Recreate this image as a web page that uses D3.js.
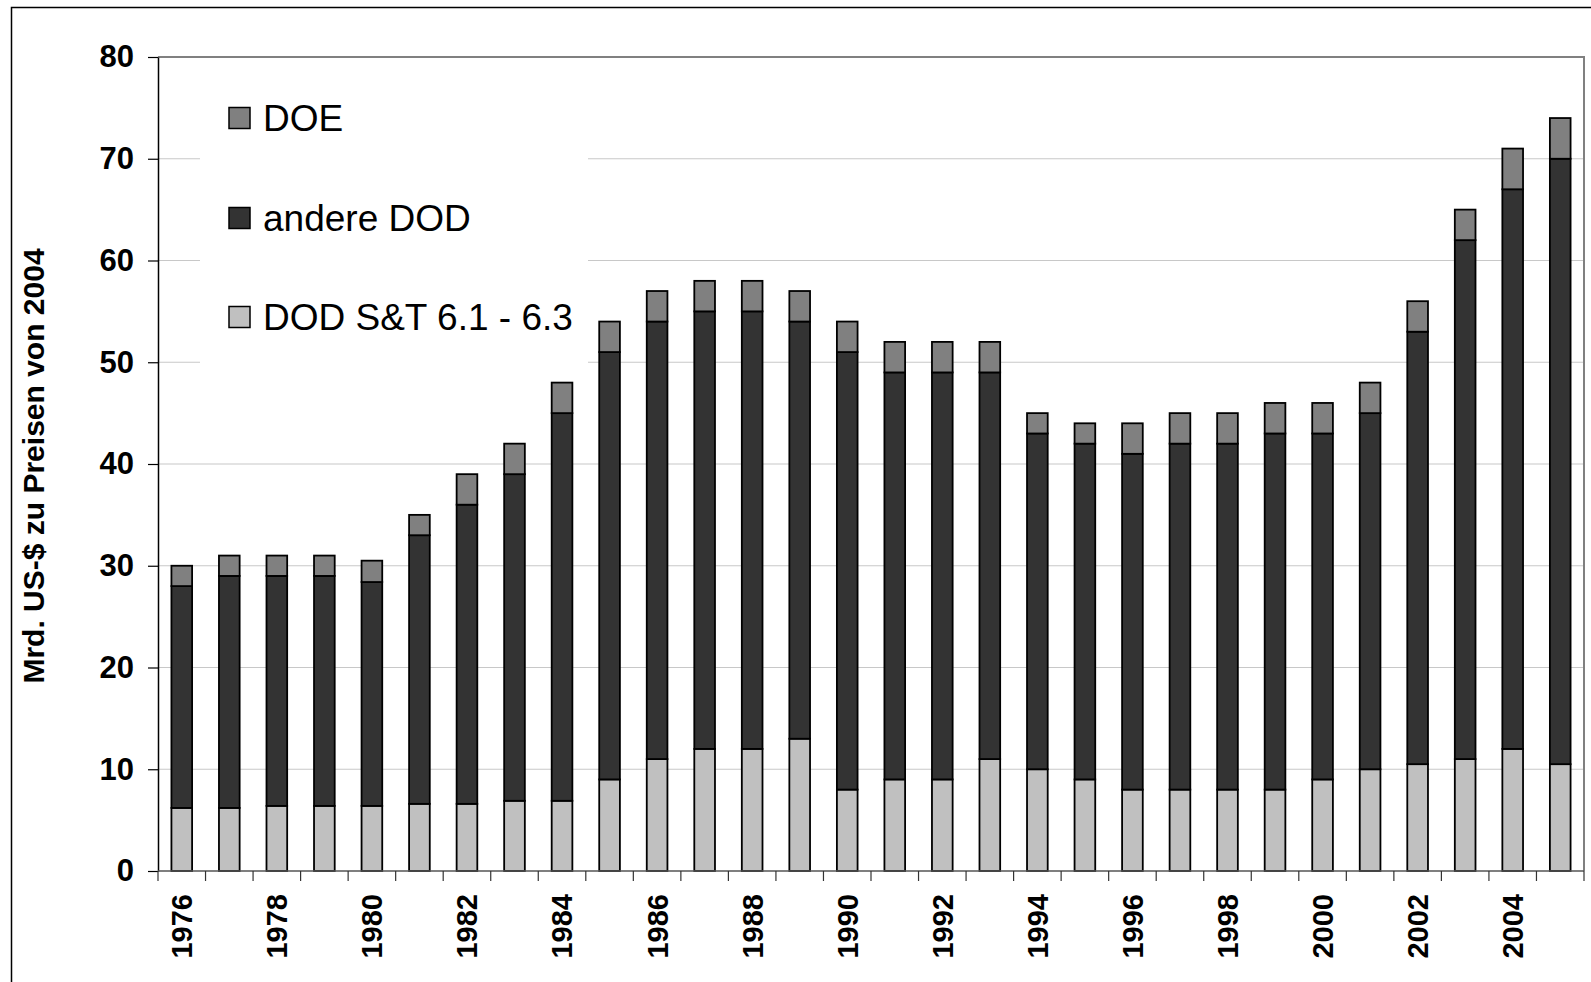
<!DOCTYPE html>
<html>
<head>
<meta charset="utf-8">
<script src="https://cdn.jsdelivr.net/npm/d3@7/dist/d3.min.js"></script>
<style>
  body { margin: 0; background: #fff; }
  svg text { font-family: "Liberation Sans", Arial, sans-serif; }
</style>
</head>
<body>
<div class="container"></div>
<script>
// values (Mrd. US-$, prices of 2004)
const years = d3.range(1976, 2006);
const dodST    = [6.2, 6.2, 6.4, 6.4, 6.4, 6.6, 6.6, 6.9, 6.9, 9, 11, 12, 12, 13, 8, 9, 9, 11, 10, 9, 8, 8, 8, 8, 9, 10, 10.5, 11, 12, 10.5];
const andereDOD = [21.8, 22.8, 22.6, 22.6, 22.0, 26.4, 29.4, 32.1, 38.1, 42, 43, 43, 43, 41, 43, 40, 40, 38, 33, 33, 33, 34, 34, 35, 34, 35, 42.5, 51, 55, 59.5];
const doe      = [2, 2, 2, 2, 2.1, 2, 3, 3, 3, 3, 3, 3, 3, 3, 3, 3, 3, 3, 2, 2, 3, 3, 3, 3, 3, 3, 3, 3, 4, 4];
const yTicks = [0, 10, 20, 30, 40, 50, 60, 70, 80];
const legendLabels = ["DOE", "andere DOD", "DOD S&T 6.1 - 6.3"];

const keys = ["st", "dod", "doe"];
const colors = { st: "#c0c0c0", dod: "#333333", doe: "#808080" };

const rows = years.map((y, i) => ({ year: y, st: dodST[i], dod: andereDOD[i], doe: doe[i] }));

const width = 1591, height = 982;
const plotLeft = 158, plotRight = 1584, plotTop = 57, plotBottom = 871;

const svg = d3.select(".container").append("svg")
    .attr("width", width)
    .attr("height", height);

// outer frame (only top and left show inside the picture)
svg.append("path")
    .attr("d", `M11.5,${height} V7.5 H${width}`)
    .attr("fill", "none")
    .attr("stroke", "#000")
    .attr("stroke-width", 1.5);

const x = d3.scaleBand().domain(years).range([plotLeft, plotRight]);
const y = d3.scaleLinear().domain([0, 80]).range([plotBottom, plotTop]);

// gridlines
svg.append("g")
    .selectAll("line")
    .data(yTicks.filter(d => d > 0 && d < 80))
    .enter()
    .append("line")
    .attr("x1", plotLeft).attr("x2", plotRight)
    .attr("y1", d => y(d)).attr("y2", d => y(d))
    .attr("stroke", "#c8c8c8")
    .attr("stroke-width", 1.2);

// plot frame top/right
svg.append("path")
    .attr("d", `M${plotLeft},${y(80)} H${plotRight} V${plotBottom}`)
    .attr("fill", "none")
    .attr("stroke", "#808080")
    .attr("stroke-width", 2);

// stacked bars
const stacked = d3.stack().keys(keys)(rows);
const barW = x.bandwidth() * 0.435;

svg.append("g")
    .selectAll("g")
    .data(stacked)
    .enter()
    .append("g")
    .attr("fill", d => colors[d.key])
    .selectAll("rect")
    .data(d => d)
    .enter()
    .append("rect")
    .attr("x", d => x(d.data.year) + (x.bandwidth() - barW) / 2)
    .attr("y", d => y(d[1]))
    .attr("width", barW)
    .attr("height", d => y(d[0]) - y(d[1]))
    .attr("stroke", "#000")
    .attr("stroke-width", 1.8);

// y axis
const yAxis = d3.axisLeft(y).tickValues(yTicks).tickSize(10).tickSizeOuter(0).tickPadding(14);
const gy = svg.append("g")
    .attr("transform", `translate(${plotLeft},0)`)
    .call(yAxis);
gy.select(".domain").attr("stroke", "#000").attr("stroke-width", 1.5);
gy.selectAll(".tick line").attr("stroke", "#000").attr("stroke-width", 1.2);
gy.selectAll(".tick text")
    .attr("font-size", 31)
    .attr("font-weight", "bold")
    .attr("fill", "#000");

// x axis: ticks at category boundaries, labels every second year
const gx = svg.append("g")
    .attr("transform", `translate(0,${plotBottom})`);
gx.append("line")
    .attr("x1", plotLeft).attr("x2", plotRight)
    .attr("stroke", "#555")
    .attr("stroke-width", 1.6);
gx.selectAll(".tk")
    .data(years.concat([2006]))
    .enter()
    .append("line")
    .attr("class", "tk")
    .attr("x1", d => d === 2006 ? plotRight : x(d))
    .attr("x2", d => d === 2006 ? plotRight : x(d))
    .attr("y1", 0).attr("y2", 10)
    .attr("stroke", "#333")
    .attr("stroke-width", 1.2);
gx.selectAll(".lbl")
    .data(years.filter(d => d % 2 === 0))
    .enter()
    .append("text")
    .attr("class", "lbl")
    .attr("transform", d => `translate(${x(d) + x.bandwidth() / 2},23) rotate(-90)`)
    .attr("dy", "0.36em")
    .attr("text-anchor", "end")
    .attr("font-size", 29)
    .attr("font-weight", "bold")
    .text(d => d);

// y title
svg.append("text")
    .attr("transform", `translate(44,466) rotate(-90)`)
    .attr("text-anchor", "middle")
    .attr("font-size", 30)
    .attr("font-weight", "bold")
    .text("Mrd. US-$ zu Preisen von 2004");

// legend
const legend = svg.append("g");
legend.append("rect")
    .attr("x", 200).attr("y", 68)
    .attr("width", 388).attr("height", 300)
    .attr("fill", "#fff");
const legendKeys = ["doe", "dod", "st"];
const legendY = [118, 218, 317];
legendKeys.forEach((k, i) => {
    legend.append("rect")
        .attr("x", 229).attr("y", legendY[i] - 10.5)
        .attr("width", 21).attr("height", 21)
        .attr("fill", colors[k])
        .attr("stroke", "#000")
        .attr("stroke-width", 1.5);
    legend.append("text")
        .attr("x", 263).attr("y", legendY[i])
        .attr("dy", "0.36em")
        .attr("font-size", 37)
        .text(legendLabels[i]);
});
</script>
</body>
</html>
